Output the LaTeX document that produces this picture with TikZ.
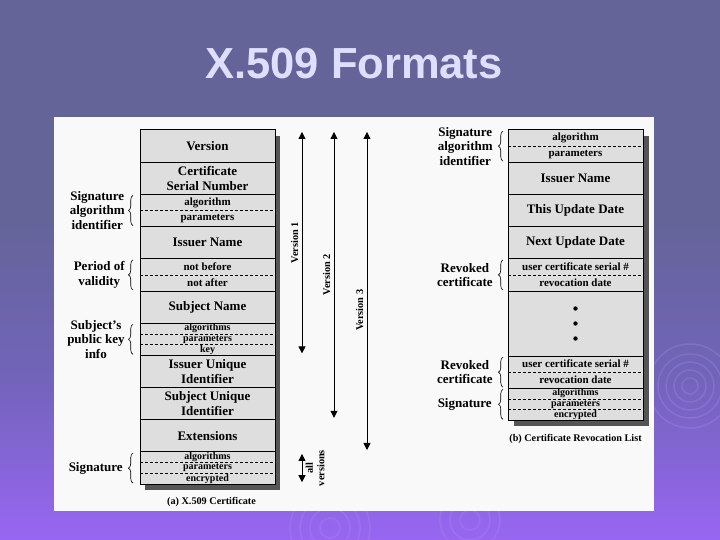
\documentclass[tikz,border=0pt]{standalone}
\usepackage{fontspec}
\setmainfont{Liberation Serif}
\newfontfamily\titlefont{Liberation Sans}
\usepackage{tikz}
\usetikzlibrary{arrows.meta,positioning,calc,decorations.pathreplacing}
\usepackage{xcolor}
\definecolor{slidetop}{RGB}{100,100,152}
\definecolor{slidemid}{RGB}{114,100,186}
\definecolor{slidebot}{RGB}{152,102,242}
\definecolor{titlecol}{RGB}{222,222,255}
\definecolor{panel}{RGB}{249,249,249}
\definecolor{cellgray}{RGB}{222,222,222}
\definecolor{shadowgray}{RGB}{85,85,85}
\definecolor{swirl}{RGB}{185,165,255}
\newcommand{\cellfont}{\fontsize{13}{14.5}\selectfont\bfseries}
\newcommand{\halffont}{\fontsize{11}{12}\selectfont\bfseries}
\newcommand{\thirdfont}{\fontsize{10}{11}\selectfont\bfseries}
\newcommand{\verfont}{\fontsize{10.3}{11.5}\selectfont\bfseries}
\newcommand{\capfont}{\fontsize{10.2}{12}\selectfont\bfseries}
\pgfdeclarelayer{slide}
\pgfdeclarelayer{shadowlayer}
\pgfsetlayers{slide,shadowlayer,main}
\pgfdeclareverticalshading{slidebg}{100bp}{color(0bp)=(slidebot); color(25bp)=(slidebot); color(40bp)=(slidemid); color(55bp)=(slidetop); color(75bp)=(slidetop); color(100bp)=(slidetop)}

\begin{document}
\begin{tikzpicture}[x=1pt,y=-1pt,node distance=0pt,
  cellrow/.style={draw,line width=1pt,fill=cellgray,minimum width=135pt,minimum height=32.2pt,inner sep=0pt,outer sep=0pt,align=center,font=\cellfont},
  halfrow/.style={fill=cellgray,minimum width=135pt,minimum height=16.1pt,inner sep=0pt,outer sep=0pt,font=\halffont},
  thirdrow/.style={fill=cellgray,minimum width=135pt,minimum height=10.73pt,inner sep=0pt,outer sep=0pt,font=\thirdfont},
  grpbox/.style={draw,line width=1pt},
  dashsep/.style={line width=0.6pt,dash pattern=on 3pt off 2pt},
  sidetag/.style={align=center,font=\cellfont,inner sep=0pt},
  sidebrace/.style={decorate,decoration={brace,amplitude=4.5pt},line width=0.6pt},
  verspan/.style={{Triangle[length=7pt,width=7pt]}-{Triangle[length=7pt,width=7pt]},line width=0.8pt,shorten <=2pt,shorten >=2pt},
  verlabel/.style={rotate=90,font=\verfont},
  figcap/.style={font=\capfont}]
  \useasboundingbox (0,0) rectangle (720,540);
  \begin{pgfonlayer}{slide}
    \shade[shading=slidebg] (0,0) rectangle (720,540);
    \foreach \r in {8,16,24,32,42}
      \draw[swirl,line width=1.5pt,opacity=0.2] (690,386) circle[radius=\r pt];
    \foreach \r in {10,20,30,40}
      \draw[swirl,line width=1.5pt,opacity=0.18] (330,528) circle[radius=\r pt];
    \foreach \r in {10,20,30}
      \draw[swirl,line width=1.5pt,opacity=0.18] (470,520) circle[radius=\r pt];
    \fill[panel] (54,117) rectangle (654,511);
  \end{pgfonlayer}

  \node[font=\titlefont\fontsize{43.5}{48}\selectfont\bfseries,text=titlecol] (title) at (354,64) {X.509 Formats};

  % (a) certificate
  \node[cellrow] (ver) at (207.5,146.1) {Version};
  \node[cellrow,below=of ver] (csn) {Certificate\\Serial Number};
  \node[halfrow,below=of csn] (salg) {algorithm};
  \node[halfrow,below=of salg] (spar) {parameters};
  \node[cellrow,below=of spar] (iss) {Issuer Name};
  \node[halfrow,below=of iss] (nbef) {not before};
  \node[halfrow,below=of nbef] (naft) {not after};
  \node[cellrow,below=of naft] (subj) {Subject Name};
  \node[thirdrow,below=of subj] (kalg) {algorithms};
  \node[thirdrow,below=of kalg] (kpar) {parameters};
  \node[thirdrow,below=of kpar] (key) {key};
  \node[cellrow,below=of key] (iuid) {Issuer Unique\\Identifier};
  \node[cellrow,below=of iuid] (suid) {Subject Unique\\Identifier};
  \node[cellrow,below=of suid] (ext) {Extensions};
  \node[thirdrow,below=of ext] (galg) {algorithms};
  \node[thirdrow,below=of galg] (gpar) {parameters};
  \node[thirdrow,below=of gpar] (genc) {encrypted};

  % (b) CRL
  \node[halfrow] (calg) at (575.5,138.05) {algorithm};
  \node[halfrow,below=of calg] (cpar) {parameters};
  \node[cellrow,below=of cpar] (ciss) {Issuer Name};
  \node[cellrow,below=of ciss] (this) {This Update Date};
  \node[cellrow,below=of this] (next) {Next Update Date};
  \node[halfrow,below=of next] (ruser) {user certificate serial \#};
  \node[halfrow,below=of ruser] (rdate) {revocation date};
  \node[cellrow,minimum height=65pt,below=of rdate] (more) {};
  \node[halfrow,below=of more] (luser) {user certificate serial \#};
  \node[halfrow,below=of luser] (ldate) {revocation date};
  \node[thirdrow,below=of ldate] (ralg) {algorithms};
  \node[thirdrow,below=of ralg] (rpar) {parameters};
  \node[thirdrow,below=of rpar] (renc) {encrypted};

  \foreach \a/\b in {salg/spar,nbef/naft,kalg/key,galg/genc,calg/cpar,ruser/rdate,luser/ldate,ralg/renc}
    \draw[grpbox] (\a.north west) rectangle (\b.south east);
  \foreach \n in {salg,nbef,kalg,kpar,galg,gpar,calg,ruser,luser,ralg,rpar}
    \draw[dashsep] (\n.south west) -- (\n.south east);
  \foreach \dy in {-15,0,15}
    \fill ($(more.center)+(0,\dy)$) circle[radius=2.2pt];

  \begin{pgfonlayer}{shadowlayer}
    \fill[shadowgray] ($(ver.north west)+(5,6)$) rectangle ($(genc.south east)+(5,6)$);
    \fill[shadowgray] ($(calg.north west)+(6,6)$) rectangle ($(renc.south east)+(6,6)$);
  \end{pgfonlayer}

  \draw[sidebrace] ($(spar.south west)+(-7,-1)$) -- ($(salg.north west)+(-7,1)$)
    node[midway,left=8pt,sidetag] (lsig) {Signature\\algorithm\\identifier};
  \draw[sidebrace] ($(naft.south west)+(-7,-1)$) -- ($(nbef.north west)+(-7,1)$)
    node[midway,left=8pt,sidetag] (lval) {Period of\\validity};
  \draw[sidebrace] ($(key.south west)+(-7,-1)$) -- ($(kalg.north west)+(-7,1)$)
    node[midway,left=8pt,sidetag] (lkey) {Subject's\\public key\\info};
  \draw[sidebrace] ($(genc.south west)+(-7,-1)$) -- ($(galg.north west)+(-7,1)$)
    node[midway,left=10pt,sidetag] (lsign) {Signature};

  \draw[sidebrace] ($(cpar.south west)+(-5,-1)$) -- ($(calg.north west)+(-5,1)$)
    node[midway,left=10pt,sidetag] (rsig) {Signature\\algorithm\\identifier};
  \draw[sidebrace] ($(rdate.south west)+(-5,-1)$) -- ($(ruser.north west)+(-5,1)$)
    node[midway,left=10pt,sidetag] (rrev) {Revoked\\certificate};
  \draw[sidebrace] ($(ldate.south west)+(-5,-1)$) -- ($(luser.north west)+(-5,1)$)
    node[midway,left=10pt,sidetag] (lrev) {Revoked\\certificate};
  \draw[sidebrace] ($(renc.south west)+(-5,-1)$) -- ($(ralg.north west)+(-5,1)$)
    node[midway,left=11pt,sidetag] (rsign) {Signature};

  \coordinate (v1) at (302,0);
  \coordinate (v2) at (334,0);
  \coordinate (v3) at (367,0);
  \draw[verspan] (ver.north -| v1) -- (key.south -| v1) node[midway,above,verlabel] (l1) {Version 1};
  \draw[verspan] (ver.north -| v2) -- (suid.south -| v2) node[midway,above,verlabel] (l2) {Version 2};
  \draw[verspan] (ver.north -| v3) -- (ext.south -| v3) node[pos=0.56,above,verlabel] (l3) {Version 3};
  \draw[verspan] (galg.north -| v1) -- (genc.south -| v1) node[midway,below,verlabel,align=center] (lall) {all\\versions};

  \node[figcap,below=10pt of genc,xshift=4pt] (capa) {(a) X.509 Certificate};
  \node[figcap,below=10pt of renc] (capb) {(b) Certificate Revocation List};
\end{tikzpicture}
\end{document}
